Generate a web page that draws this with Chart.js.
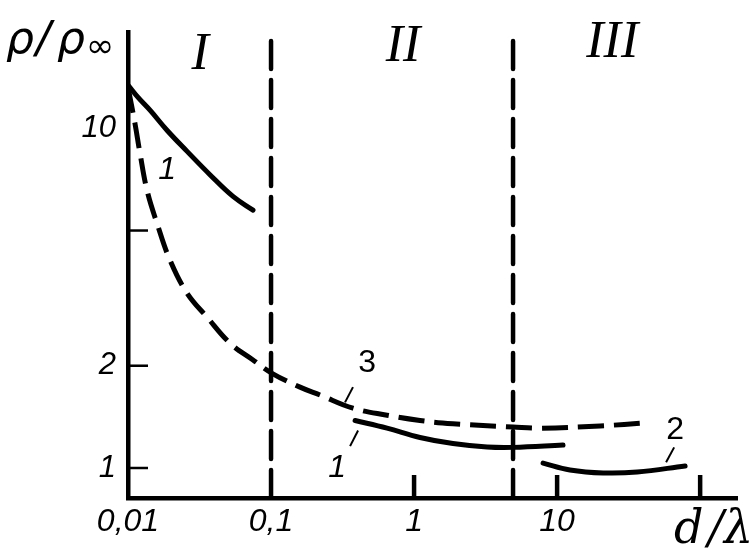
<!DOCTYPE html>
<html>
<head>
<meta charset="utf-8">
<script src="https://cdn.jsdelivr.net/npm/chart.js@4.4.0/dist/chart.umd.min.js"></script>
<style>
    body { margin: 0; background: #ffffff; }
    #wrap { width: 756px; height: 559px; }
</style>
</head>
<body>
<div id="wrap"><canvas id="rhoChart" width="756" height="559"></canvas></div>
<script>
// axis ticks
const xTicks = [0.01, 0.1, 1, 10, 100];
const xTickLabels = ["0,01", "0,1", "1", "10", ""];
const xInnerTicks = [1, 10, 100];
const yTicks = [1, 2, 5, 10];
const yTickLabels = ["1", "2", "", "10"];
const yInnerTicks = [1, 2, 5];

// curve 1, region I
const curve1aX = [0.01, 0.0118, 0.01425, 0.0188, 0.0259, 0.0374, 0.0542, 0.0748];
const curve1aY = [13.4, 12.3, 11.3, 9.85, 8.55, 7.3, 6.3, 5.74];

// curve 1, region II
const curve1bX = [0.387, 0.647, 1.10, 1.87, 3.24, 4.92, 11.0];
const curve1bY = [1.38, 1.31, 1.23, 1.18, 1.153, 1.15, 1.168];

// curve 2, region III
const curve2X = [7.98, 12.3, 21.0, 36.3, 78.5];
const curve2Y = [1.034, 0.987, 0.967, 0.973, 1.014];

// curve 3 (dashed)
const curve3X = [0.01, 0.0112, 0.01213, 0.01358, 0.01595, 0.01966, 0.0259, 0.0357, 0.0517, 0.0748,
                 0.1016, 0.1595, 0.22, 0.374, 0.647, 1.10, 1.87, 4.92, 7.6, 20, 43.3];
const curve3Y = [13.2, 10.3, 8.44, 6.57, 5.25, 4.09, 3.27, 2.78, 2.33, 2.08,
                 1.90, 1.73, 1.64, 1.50, 1.43, 1.38, 1.35, 1.32, 1.31, 1.33, 1.36];

// region boundaries
const boundaryX = [0.1, 4.92];
const boundaryTop = 18.4;

const xMin = 0.01, xMax = 181;
const yMin = 0.816, yMax = 19.2;

function toPoints(xs, ys) {
    return xs.map((x, i) => ({ x: x, y: ys[i] }));
}

function curve(xs, ys, dashed) {
    return {
        data: toPoints(xs, ys),
        borderColor: "#000000",
        borderWidth: 5,
        borderDash: dashed ? [26, 10] : [],
        borderCapStyle: dashed ? "butt" : "round",
        tension: 0.4,
        pointRadius: 0,
        fill: false
    };
}

function boundary(x) {
    return {
        data: [{ x: x, y: yMin }, { x: x, y: boundaryTop }],
        borderColor: "#000000",
        borderWidth: 4.5,
        borderDash: [28, 11],
        borderCapStyle: "round",
        pointRadius: 0,
        fill: false
    };
}

// labels placed in data units: [text, x, y, font]
const notes = [
    ["I", 0.0319, 16.4, "italic 52px 'Liberation Serif'"],
    ["II", 0.838, 17.3, "italic 52px 'Liberation Serif'"],
    ["III", 24.3, 17.8, "italic 52px 'Liberation Serif'"],
    ["1", 0.01875, 7.52, "italic 32px 'Liberation Sans'"],
    ["1", 0.29, 1.0, "italic 32px 'Liberation Sans'"],
    ["3", 0.469, 2.04, "32px 'Liberation Sans'"],
    ["2", 66.8, 1.29, "32px 'Liberation Sans'"]
];

// leader lines: x1, y1, x2, y2
const leaders = [
    [0.406, 1.29, 0.357, 1.16],
    [0.374, 1.73, 0.329, 1.56],
    [65.8, 1.15, 57.8, 1.04]
];

const decorPlugin = {
    id: "decor",
    afterDatasetsDraw(chart) {
        const ctx = chart.ctx;
        const xs = chart.scales.x;
        const ys = chart.scales.y;
        const area = chart.chartArea;

        ctx.save();
        ctx.strokeStyle = "#000000";
        ctx.fillStyle = "#000000";

        // inner tick marks
        ctx.lineWidth = 2.5;
        yInnerTicks.forEach(v => {
            const py = ys.getPixelForValue(v);
            ctx.beginPath();
            ctx.moveTo(area.left, py);
            ctx.lineTo(area.left + 20, py);
            ctx.stroke();
        });
        ctx.lineWidth = 4.5;
        xInnerTicks.forEach(v => {
            const px = xs.getPixelForValue(v);
            ctx.beginPath();
            ctx.moveTo(px, area.bottom);
            ctx.lineTo(px, area.bottom - 23);
            ctx.stroke();
        });

        // leader lines
        ctx.lineWidth = 2;
        leaders.forEach(l => {
            ctx.beginPath();
            ctx.moveTo(xs.getPixelForValue(l[0]), ys.getPixelForValue(l[1]));
            ctx.lineTo(xs.getPixelForValue(l[2]), ys.getPixelForValue(l[3]));
            ctx.stroke();
        });

        // text notes
        ctx.textAlign = "center";
        ctx.textBaseline = "middle";
        notes.forEach(n => {
            ctx.font = n[3];
            ctx.fillText(n[0], xs.getPixelForValue(n[1]), ys.getPixelForValue(n[2]));
        });

        // axis titles
        ctx.textAlign = "left";
        ctx.textBaseline = "alphabetic";
        ctx.font = "italic 44px 'DejaVu Sans'";
        ctx.fillText("ρ", 6, 53);
        ctx.fillText("/", 36, 53);
        ctx.fillText("ρ", 57, 53);
        ctx.font = "italic 34px 'DejaVu Sans'";
        ctx.fillText("∞", 86, 57);

        ctx.font = "italic 46px 'DejaVu Serif'";
        ctx.fillText("d", 674, 543);
        ctx.fillText("/", 708, 543);
        ctx.fillText("λ", 724, 543);
        ctx.restore();
    }
};

function renderChart() {
    const canvas = document.getElementById("rhoChart");

    new Chart(canvas, {
        type: "line",
        data: {
            datasets: [
                curve(curve1aX, curve1aY, false),
                curve(curve1bX, curve1bY, false),
                curve(curve2X, curve2Y, false),
                curve(curve3X, curve3Y, true),
                boundary(boundaryX[0]),
                boundary(boundaryX[1])
            ]
        },
        options: {
            responsive: false,
            animation: false,
            events: [],
            layout: {
                padding: { top: 32, right: 19, left: 0, bottom: 0 }
            },
            plugins: {
                legend: { display: false },
                tooltip: { enabled: false }
            },
            scales: {
                x: {
                    type: "logarithmic",
                    min: xMin,
                    max: xMax,
                    afterBuildTicks: scale => {
                        scale.ticks = xTicks.map(v => ({ value: v }));
                    },
                    afterFit: scale => { scale.height = 61; },
                    ticks: {
                        autoSkip: false,
                        maxRotation: 0,
                        padding: 5,
                        color: "#000000",
                        font: { family: "'Liberation Sans'", size: 32, style: "italic" },
                        callback: function(value) {
                            const i = xTicks.indexOf(value);
                            return i >= 0 ? xTickLabels[i] : "";
                        }
                    },
                    grid: { drawOnChartArea: false, drawTicks: false },
                    border: { display: true, color: "#000000", width: 4.5 }
                },
                y: {
                    type: "logarithmic",
                    min: yMin,
                    max: yMax,
                    afterBuildTicks: scale => {
                        scale.ticks = yTicks.map(v => ({ value: v }));
                    },
                    afterFit: scale => { scale.width = 128; },
                    ticks: {
                        autoSkip: false,
                        padding: 12,
                        color: "#000000",
                        font: { family: "'Liberation Sans'", size: 31, style: "italic" },
                        callback: function(value) {
                            const i = yTicks.indexOf(value);
                            return i >= 0 ? yTickLabels[i] : "";
                        }
                    },
                    grid: { drawOnChartArea: false, drawTicks: false },
                    border: { display: true, color: "#000000", width: 4.5 }
                }
            }
        },
        plugins: [decorPlugin]
    });
}

window.addEventListener("DOMContentLoaded", renderChart);
</script>
</body>
</html>
